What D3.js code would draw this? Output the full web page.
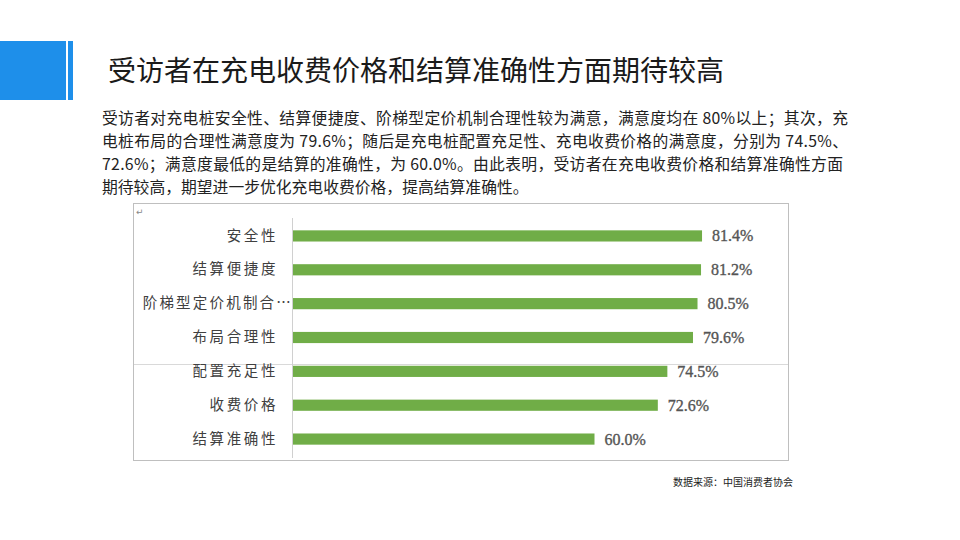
<!DOCTYPE html>
<html><head><meta charset="utf-8">
<script src="https://cdn.jsdelivr.net/npm/d3@7/dist/d3.min.js"></script>
<style>
body{margin:0;background:#fff;}
svg{display:block;}
</style></head>
<body>
<svg id="c" width="960" height="540"></svg>
<script>
const title = "受访者在充电收费价格和结算准确性方面期待较高";
const paragraph = [
  "受访者对充电桩安全性、结算便捷度、阶梯型定价机制合理性较为满意，满意度均在 80%以上；其次，充",
  "电桩布局的合理性满意度为 79.6%；随后是充电桩配置充足性、充电收费价格的满意度，分别为 74.5%、",
  "72.6%；满意度最低的是结算的准确性，为 60.0%。由此表明，受访者在充电收费价格和结算准确性方面",
  "期待较高，期望进一步优化充电收费价格，提高结算准确性。"
];
const paragraphWidths = [746, 746, 741, 0];
const categories = ["安全性","结算便捷度","阶梯型定价机制合…","布局合理性","配置充足性","收费价格","结算准确性"];
const values = [81.4, 81.2, 80.5, 79.6, 74.5, 72.6, 60.0];
const source = "数据来源：中国消费者协会";

const svg = d3.select("#c");
const cjk = "'Noto Sans CJK SC','Noto Sans',sans-serif";

// header block
svg.append("rect").attr("x",0).attr("y",41).attr("width",66).attr("height",59).attr("fill","#1E8FEA");
svg.append("rect").attr("x",68).attr("y",41).attr("width",5).attr("height",59).attr("fill","#1E8FEA");

svg.append("text").attr("x",108).attr("y",81).attr("font-family",cjk).attr("font-size",28)
  .attr("fill","#1a1a1a").text(title);

const pt = svg.append("g").selectAll("text").data(paragraph).join("text")
  .attr("x",102).attr("y",(d,i)=>124+i*23).attr("font-family",cjk).attr("font-size",15.8)
  .attr("fill","#222").text(d=>d);
pt.each(function(d,i){
  if (paragraphWidths[i]) d3.select(this).attr("textLength",paragraphWidths[i]).attr("lengthAdjust","spacing");
});

// chart frame
svg.append("rect").attr("x",133.5).attr("y",203.5).attr("width",655).attr("height",257)
  .attr("fill","none").attr("stroke","#bfbfbf");
svg.append("text").attr("x",136).attr("y",215).attr("font-size",9).attr("fill","#888")
  .attr("font-family","DejaVu Sans").text("↵");

// artifact line
svg.append("line").attr("x1",134).attr("x2",788).attr("y1",364.5).attr("y2",364.5)
  .attr("stroke","#d9d9d9");

const x = d3.scaleLinear().domain([0,100]).range([293,795.5]);
const y = d3.scaleBand().domain(categories).range([219,456]).paddingInner(0.67).paddingOuter(0.335);

svg.append("g").selectAll("rect").data(values).join("rect")
  .attr("x",x(0)).attr("y",(d,i)=>y(categories[i]))
  .attr("width",d=>x(d)-x(0)).attr("height",y.bandwidth()).attr("fill","#70AD47");

const yAxis = d3.axisLeft(y).tickSize(0).tickPadding(14);
const ag = svg.append("g").attr("transform","translate(292,0)").call(yAxis);
ag.select(".domain").attr("stroke","#d0d0d0").attr("d","M0.5,218V458");
ag.selectAll("text").attr("font-family",cjk).attr("font-size",14.5).attr("fill","#404040")
  .style("letter-spacing","2.6px");
ag.selectAll("text").filter(d=>d.endsWith("…")).attr("x",1).style("letter-spacing","2.2px");

svg.append("g").selectAll("text").data(values).join("text")
  .attr("x",d=>x(d)+10).attr("y",(d,i)=>y(categories[i])+y.bandwidth()/2+5.5)
  .attr("font-family","'Liberation Serif','Times New Roman',serif").attr("font-size",16)
  .attr("fill","#555").attr("stroke","#555").attr("stroke-width",0.35)
  .text(d=>d.toFixed(1)+"%");

svg.append("text").attr("x",673).attr("y",486).attr("font-family",cjk).attr("font-size",10)
  .attr("fill","#222").text(source);
</script>
</body></html>
